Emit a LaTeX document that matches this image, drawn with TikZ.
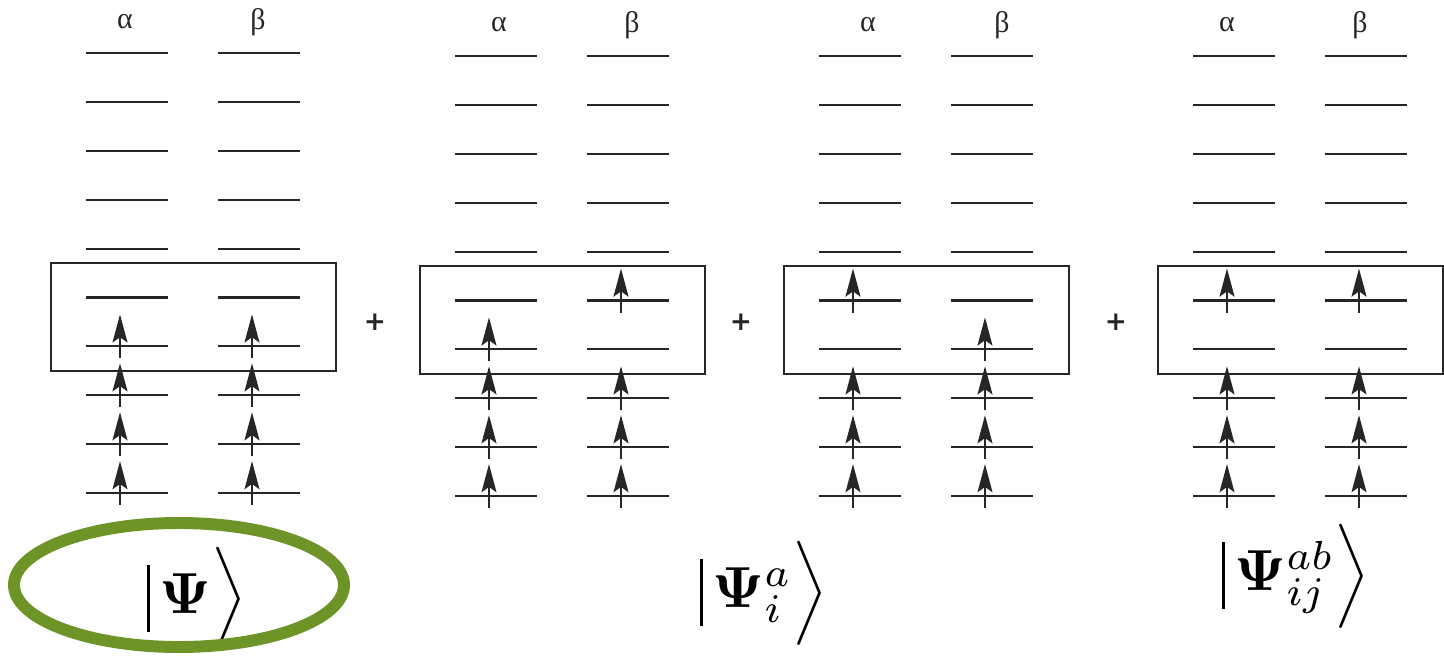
\documentclass[tikz,border=0pt]{standalone}
\usepackage{amsmath}
\usepackage{amssymb}
\usepackage[no-math]{fontspec}
\newfontfamily\greekfont{Liberation Serif}
\newfontfamily\plusfont{DejaVu Sans}
\usepackage{tikz}
\usetikzlibrary{arrows.meta}

\definecolor{ringgreen}{RGB}{110,148,40}
\newcommand{\ketbar}{\mathopen{\rule[-3.2pt]{0.5pt}{11.6pt}}}
\tikzset{
    level/.style={line width=1.2pt, black!85},
    spin/.style={line width=1.2pt, black!85, -{Stealth[length=16pt, width=8.5pt, inset=3pt]}},
    cibox/.style={draw=black!85, line width=1.2pt},
    spinlabel/.style={font=\greekfont\fontsize{17}{20}\selectfont, black!85},
    plussign/.style={font=\plusfont\bfseries\fontsize{15}{18}\selectfont, black!85},
    ket/.style={scale=3.3},
}

\begin{document}
\begin{tikzpicture}[x=0.02cm, y=-0.02cm]
    \useasboundingbox (0,0) rectangle (1444,656);

    % determinant: number / left of alpha levels / top level / alpha x / beta x / occupied alpha / occupied beta
    \foreach \d/\x/\y/\ax/\bx/\occa/\occb in {1/86/53/125/258/{6,7,8,9}/{6,7,8,9},
        2/455/56/499/632/{6,7,8,9}/{5,7,8,9},
        3/819/56/868/1002/{5,7,8,9}/{6,7,8,9},
        4/1193/56/1227/1360/{5,7,8,9}/{5,7,8,9}} {
        \node[spinlabel] (alpha\d) at (\ax, \y-31) {α};
        \node[spinlabel] (beta\d) at (\bx, \y-31) {β};
        \foreach \k in {0,...,9} {
            \draw[level] (\x, \y+48.9*\k) -- +(82,0);
            \draw[level] (\x+132, \y+48.9*\k) -- +(82,0);
        }
        \foreach \k in \occa
            \draw[spin] (\x+34, \y+48.9*\k+12) -- +(0,-44);
        \foreach \k in \occb
            \draw[spin] (\x+166, \y+48.9*\k+12) -- +(0,-44);
        % active space
        \draw[cibox] (\x-35, \y+210) rectangle (\x+250, \y+318);
    }

    \foreach \i/\px in {1/375, 2/741, 3/1116}
        \node[plussign] (plus\i) at (\px, 322) {+};

    % kets
    \node[ket] (psi) at (197, 599) {$\ketbar\,\mathbf{\Psi}\Bigr\rangle$};
    \node[ket] (psisingle) at (764, 593) {$\ketbar\,\mathbf{\Psi}_i^a\Bigr\rangle$};
    \node[ket] (psidouble) at (1296, 576) {$\ketbar\,\mathbf{\Psi}_{ij}^{ab}\Bigr\rangle$};
    \draw[ringgreen, line width=6.8pt] (179,585) ellipse [x radius=165, y radius=62];
\end{tikzpicture}
\end{document}
